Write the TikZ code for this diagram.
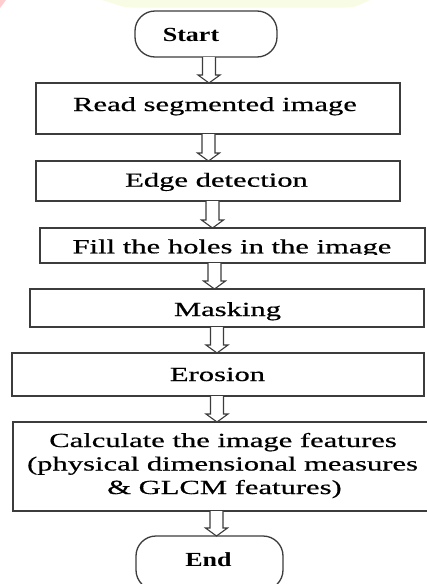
\documentclass[tikz,border=0pt]{standalone}
\usepackage{fontspec}
\setmainfont{Liberation Serif}[FakeStretch=1.53, UprightFeatures={FakeBold=0.6}]
\newfontfamily\termfont{Liberation Serif}[FakeStretch=1.3]
\usetikzlibrary{calc}
\definecolor{edgegray}{RGB}{60,60,60}
\definecolor{wmyellow}{RGB}{248,252,228}
\definecolor{wmpink}{RGB}{255,205,205}
\tikzset{
  box/.style={draw=edgegray, line width=1.3pt, fill=white, inner sep=0pt, outer sep=0pt},
  term/.style={box, rounded corners=20pt},
  lbl/.style={inner sep=0pt, anchor=base, font=\fontsize{20}{23.5}\selectfont},
  tlbl/.style={inner sep=0pt, anchor=base, font=\termfont\bfseries\fontsize{20}{23.5}\selectfont},
  arrowline/.style={draw=edgegray, line width=1.1pt, fill=white, line join=miter}
}
\newcommand{\blockarr}[3]{% #1 x (pt), #2 upper node, #3 lower node
  \draw[arrowline] let \p1=(#2.south), \p2=(#3.north) in
    (#1pt-6.5pt,\y1) -- (#1pt-6.5pt,\y2+8pt) -- (#1pt-11pt,\y2+8pt) -- (#1pt,\y2)
    -- (#1pt+11pt,\y2+8pt) -- (#1pt+6.5pt,\y2+8pt) -- (#1pt+6.5pt,\y1);}
\begin{document}
\begin{tikzpicture}[x=1pt,y=-1pt]
  \clip (0,0) rectangle (427,584);
  \fill[white] (0,0) rectangle (427,584);
  % faint background marks
  \fill[wmyellow] (102,0) -- (118,5) .. controls (124,7) .. (132,7.5) -- (345,7.5)
      .. controls (354,7) .. (360,4.5) -- (370,0) -- cycle;
  \fill[wmpink] (0,0) -- (6,0) -- (0,8) -- cycle;

  % boxes
  \node[term, minimum width=142, minimum height=46] (start) at (206,34) {};
  \node[box, minimum width=364, minimum height=51] (read) at (218,108.5) {};
  \node[box, minimum width=364, minimum height=40] (edge) at (218,181) {};
  \node[box, minimum width=385, minimum height=35] (fillh) at (232.5,245.5) {};
  \node[box, minimum width=394, minimum height=38] (mask) at (227,308) {};
  \node[box, minimum width=412, minimum height=43] (eros) at (218,374.5) {};
  \node[box, minimum width=427, minimum height=89] (calc) at (226.5,466.5) {};
  \node[term, minimum width=147, minimum height=54] (fin) at (209.5,563) {};

  % labels
  \node[tlbl] (starttxt) at (191,41.7) {Start};
  \node[lbl] (readtxt) at (215,111) {Read segmented image};
  \node[lbl] (edgetxt) at (216.5,186.7) {Edge detection};
  \begin{scope}
    \clip (40,228) rectangle (425,254.5);
    \node[lbl] (filltxt) at (232,253.3) {Fill the holes in the image};
  \end{scope}
  \node[lbl] (masktxt) at (227.5,316) {Masking};
  \node[lbl] (erostxt) at (217.5,381) {Erosion};
  \node[lbl] (calctxta) at (223,447) {Calculate the image features};
  \node[lbl] (calctxtb) at (222.5,470.5) {(physical dimensional measures};
  \node[lbl] (calctxtc) at (224.5,494) {\& GLCM features)};
  \node[tlbl] (fintxt) at (208.5,566) {End};

  % block arrows
  \blockarr{209}{start}{read}
  \blockarr{208.5}{read}{edge}
  \blockarr{212.5}{edge}{fillh}
  \blockarr{214.5}{fillh}{mask}
  \blockarr{217}{mask}{eros}
  \blockarr{217}{eros}{calc}
  \blockarr{216.5}{calc}{fin}
\end{tikzpicture}
\end{document}
